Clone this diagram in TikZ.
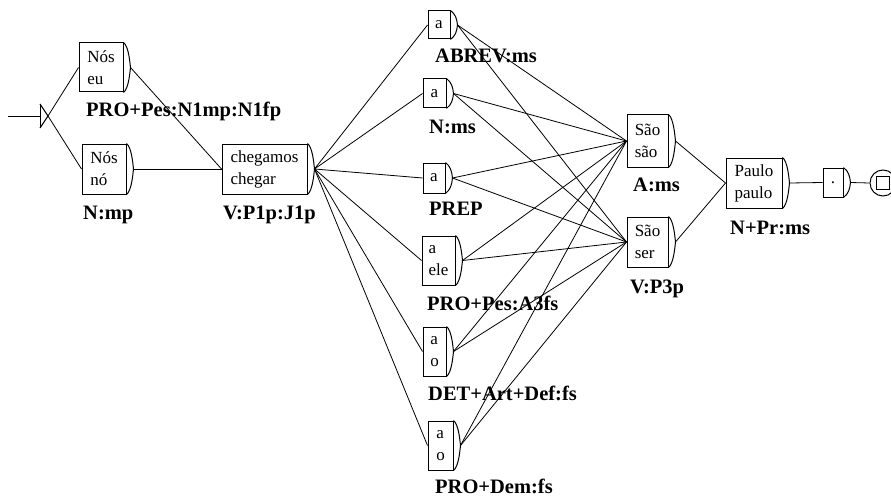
\documentclass[tikz,border=0pt]{standalone}
\usepackage{fontspec}
\setmainfont{Liberation Serif}

\tikzset{
  gbox/.style={draw, line width=1pt, rectangle, inner sep=0pt, align=left,
    font=\fontsize{17}{22}\selectfont},
  chev/.style={line width=1pt},
  conn/.style={line width=0.8pt},
  lab/.style={anchor=base west, inner sep=0pt,
    font=\bfseries\fontsize{20.5}{24}\selectfont},
}

% box with its output chevron; #1 name, #2..#5 corners, #6 content
\newcommand\grbox[6]{%
  \node[gbox, minimum width={(#4)-(#2)}, minimum height={(#5)-(#3)}]
    (#1) at ({((#2)+(#4))/2},{((#3)+(#5))/2}) {#6};
  \coordinate (#1-tip) at ([xshift=7pt]#1.east);
  \draw[chev] (#1.north east) .. controls +(5pt,-4pt) and +(-0.8pt,7pt) .. (#1-tip)
     .. controls +(-0.8pt,-7pt) and +(5pt,4pt) .. (#1.south east);
}

\begin{document}
\begin{tikzpicture}[x=1pt, y=-1pt]
  \fill[white] (0,0) rectangle (891,500);
  \useasboundingbox (0,0) rectangle (891,500);

  % initial state
  \coordinate (start) at (8,116);
  \coordinate (ibar) at (40,116);
  \coordinate (init) at (48,116);
  \draw[conn] (start) -- (ibar);
  \draw[chev] (40,104) -- (40,128);
  \draw[chev] (40,104) -- (init) -- (40,128);

  % boxes
  \grbox{neu}{79}{43}{123}{92}{Nós\\eu}
  \grbox{nno}{82}{144}{126}{194}{Nós\\nó}
  \grbox{cheg}{222}{144}{307}{194}{chegamos\\chegar}
  \grbox{abrev}{428}{11}{450}{39}{a}
  \grbox{nms}{423}{79}{446}{108}{a}
  \grbox{prep}{423}{163}{445}{193}{a}
  \grbox{ele}{422}{236}{455}{285}{a\\ele}
  \grbox{det}{423}{327}{446}{376}{a\\o}
  \grbox{dem}{428}{421}{453}{470}{a\\o}
  \grbox{saoa}{627}{115}{668}{167}{São\\são}
  \grbox{saov}{627}{217}{668}{267}{São\\ser}
  \grbox{paulo}{726}{158}{782}{208}{Paulo\\paulo}
  \grbox{dot}{823}{168}{843}{197}{.}

  % final state
  \node[circle, draw, line width=1pt, minimum size=26pt, inner sep=0pt] (final) at (883,183) {};
  \node[draw, line width=1pt, minimum size=13pt, inner sep=0pt] (finalsq) at (final.center) {};

  % transitions
  \draw[conn] (init) -- (neu.west);
  \draw[conn] (init) -- (nno.west);
  \draw[conn] (neu-tip) -- (cheg.west);
  \draw[conn] (nno-tip) -- (cheg.west);
  \foreach \m in {abrev,nms,prep,ele,det,dem}{
    \draw[conn] (cheg-tip) -- (\m.west);
    \draw[conn] (\m-tip) -- (saoa.west);
    \draw[conn] (\m-tip) -- (saov.west);
  }
  \draw[conn] (saoa-tip) -- (paulo.west);
  \draw[conn] (saov-tip) -- (paulo.west);
  \draw[conn] (paulo-tip) -- (dot.west);
  \draw[conn] (dot-tip) -- (final.west);

  % tags under the boxes
  \node[lab] (l-neu) at (86,117) {PRO+Pes:N1mp:N1fp};
  \node[lab] (l-nno) at (83,219) {N:mp};
  \node[lab] (l-cheg) at (223,219) {V:P1p:J1p};
  \node[lab] (l-abrev) at (435,63) {ABREV:ms};
  \node[lab] (l-nms) at (429,133) {N:ms};
  \node[lab] (l-prep) at (429,215) {PREP};
  \node[lab] (l-ele) at (427,310) {PRO+Pes:A3fs};
  \node[lab] (l-det) at (428,400) {DET+Art+Def:fs};
  \node[lab] (l-dem) at (435,493) {PRO+Dem:fs};
  \node[lab] (l-saoa) at (633,191) {A:ms};
  \node[lab] (l-saov) at (630,293) {V:P3p};
  \node[lab] (l-paulo) at (730,234) {N+Pr:ms};
\end{tikzpicture}
\end{document}
